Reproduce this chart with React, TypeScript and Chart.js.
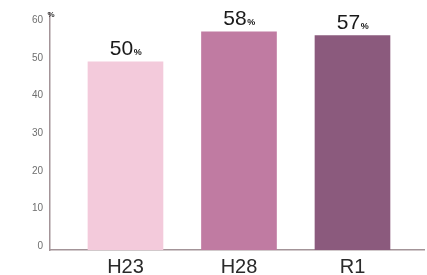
import React, { useEffect, useRef } from "react";
import { Chart, registerables } from "chart.js";

Chart.register(...registerables);

const categories = ["H23", "H28", "R1"];
const values = [50, 58, 57];
const barColors = ["#f3cadb", "#c07ba2", "#8b5a7d"];
const yTicks = [0, 10, 20, 30, 40, 50, 60];
const unitLabel = "%";

const FONT = "'Liberation Sans', Arial, sans-serif";

const labelPlugin = {
  id: "barLabels",
  afterDatasetsDraw(chart: any) {
    const ctx = chart.ctx;
    const meta = chart.getDatasetMeta(0);
    ctx.save();
    meta.data.forEach((bar: any, i: number) => {
      const num = String(values[i]);
      ctx.font = `21px ${FONT}`;
      const wNum = ctx.measureText(num).width;
      ctx.font = `bold 9px ${FONT}`;
      const wPct = ctx.measureText(unitLabel).width;
      const total = wNum + wPct;
      const x0 = bar.x - total / 2;
      const yb = bar.y - 7;
      ctx.fillStyle = "#1a1a1a";
      ctx.textBaseline = "alphabetic";
      ctx.textAlign = "left";
      ctx.font = `21px ${FONT}`;
      ctx.fillText(num, x0, yb);
      ctx.font = `bold 9px ${FONT}`;
      ctx.fillText(unitLabel, x0 + wNum + 0.5, yb);
    });
    const { left, top } = chart.chartArea;
    ctx.font = `bold 8px ${FONT}`;
    ctx.textAlign = "center";
    ctx.textBaseline = "middle";
    ctx.fillStyle = "#333";
    ctx.fillText(unitLabel, left + 1, top + 2);
    ctx.restore();
  },
};

export default function App() {
  const ref = useRef<HTMLCanvasElement | null>(null);
  useEffect(() => {
    document.body.style.margin = "0";
    if (!ref.current) return;
    const chart = new Chart(ref.current, {
      type: "bar",
      data: {
        datasets: [
          {
            data: values.map((v, i) => ({ x: i + 1, y: v })),
            backgroundColor: barColors,
            borderWidth: 0,
            barThickness: 75,
          },
        ],
      },
      options: {
        animation: false,
        responsive: true,
        maintainAspectRatio: false,
        layout: { padding: { top: 13, right: 3, left: 0, bottom: 0 } },
        plugins: {
          legend: { display: false },
          tooltip: { enabled: false },
          title: { display: false },
        },
        scales: {
          x: {
            type: "linear",
            offset: false,
            min: 0.335,
            max: 3.63,
            afterBuildTicks: (scale: any) => {
              scale.ticks = categories.map((_, i) => ({ value: i + 1 }));
            },
            afterFit: (scale: any) => {
              scale.height = 25;
            },
            grid: { display: false, drawTicks: false, offset: false },
            border: { display: true, color: "#a39498", width: 1.5 },
            ticks: {
              padding: 5,
              color: "#2a2a2a",
              font: { family: FONT, size: 20 },
              callback: (v: any) => categories[Math.round(v) - 1] ?? "",
            },
          },
          y: {
            type: "linear",
            min: 0,
            max: 63,
            afterBuildTicks: (scale: any) => {
              scale.ticks = yTicks.map((v) => ({ value: v }));
            },
            afterFit: (scale: any) => {
              scale.width = 50;
            },
            grid: { display: false, drawTicks: false },
            border: { display: true, color: "#a39498", width: 1.5 },
            ticks: {
              padding: 7,
              labelOffset: -4,
              color: "#6e6e6e",
              font: { family: FONT, size: 10 },
            },
          },
        },
      },
      plugins: [labelPlugin],
    } as any);
    return () => chart.destroy();
  }, []);
  return (
    <div style={{ position: "fixed", left: 0, top: 0, width: 427, height: 275, background: "#fff" }}>
      <canvas ref={ref} />
    </div>
  );
}
